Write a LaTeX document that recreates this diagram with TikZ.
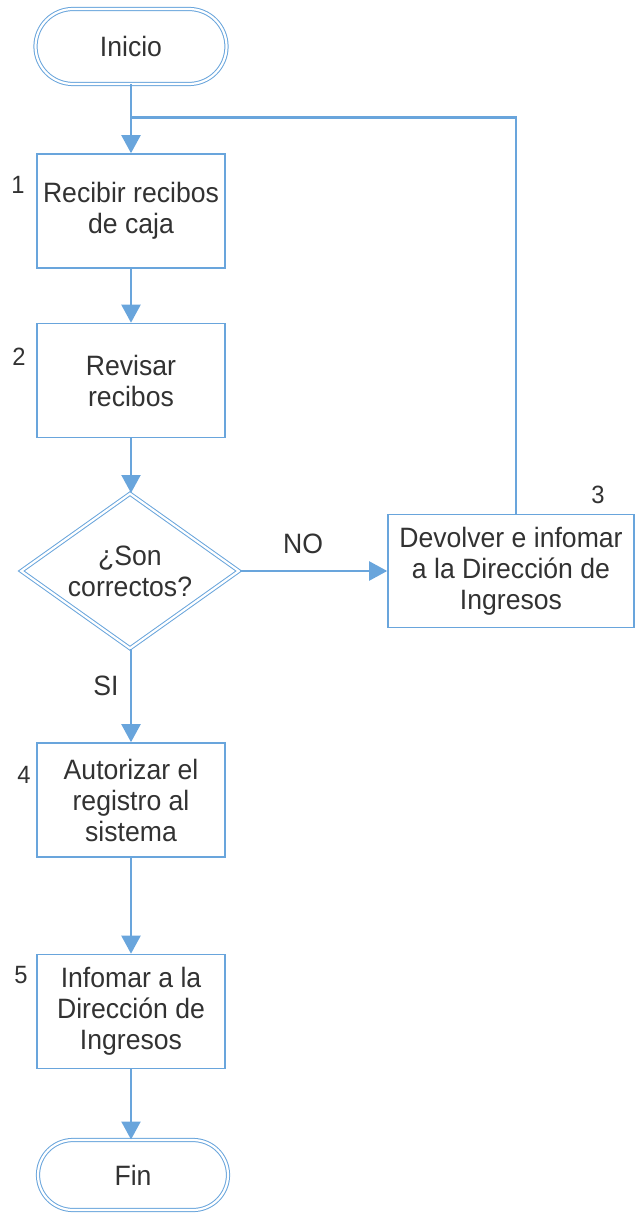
\documentclass[tikz,border=0pt]{standalone}
\usepackage{fontspec}
\setmainfont[FakeStretch=0.95]{Liberation Sans}
\usetikzlibrary{shapes.geometric,arrows.meta}
\definecolor{lineblue}{RGB}{105,165,220}
\definecolor{txtgray}{RGB}{50,50,50}
\begin{document}
\begin{tikzpicture}[x=1pt,y=-1pt,
  every node/.style={text=txtgray},
  txt/.style={font=\fontsize{28}{31}\selectfont, align=center},
  num/.style={font=\fontsize{25}{28}\selectfont, inner sep=0pt},
  stepbox/.style={txt, draw=lineblue, line width=1.6pt, rectangle, minimum width=188pt, minimum height=114pt, inner sep=0pt},
  term/.style={txt, draw=lineblue, line width=1pt, double=white, double distance=2.2pt, rectangle, inner sep=0pt},
  decision/.style={txt, draw=lineblue, line width=1pt, double=white, double distance=2.2pt, diamond, minimum width=218pt, minimum height=155pt, inner sep=0pt, aspect=1.4},
  conn/.style={draw=lineblue, line width=2.2pt},
  arr/.style={conn, -{Triangle[length=18pt,width=19pt]}}
]
\useasboundingbox (0,0) rectangle (636,1214);

\node[term, minimum width=191pt, minimum height=75pt, rounded corners=37.5pt] (inicio) at (131,46.5) {Inicio};
\node[stepbox] (b1) at (131,211) {Recibir recibos\\de caja};
\node[stepbox] (b2) at (131,380.5) {Revisar\\recibos};
\node[decision] (dia) at (130,571) {¿Son\\correctos?};
\node[stepbox, minimum width=246pt, minimum height=113pt] (b3) at (511,571) {Devolver e infomar\\a la Dirección de\\Ingresos};
\node[stepbox] (b4) at (131,800) {Autorizar el\\registro al\\sistema};
\node[stepbox] (b5) at (131,1011.5) {Infomar a la\\Dirección de\\Ingresos};
\node[term, minimum width=190pt, minimum height=70pt, rounded corners=35pt] (fin) at (133,1175) {Fin};

\node[num] (n1) at (18,185) {1};
\node[num] (n2) at (19,357) {2};
\node[num] (n3) at (598,495) {3};
\node[num] (n4) at (24,775) {4};
\node[num] (n5) at (21,975) {5};

\node[txt] (no) at (303,544) {NO};
\node[txt] (si) at (106,686) {SI};

\coordinate (j) at (131,117.5);

\draw[arr] (inicio.south) -- (b1.north);
\draw[conn] ([xshift=5pt]b3.north) |- (j);
\draw[arr] (b1.south) -- (b2.north);
\draw[arr] (b2.south) -- ([xshift=1pt]dia.north);
\draw[arr] (dia.east) -- (b3.west);
\draw[arr] ([xshift=1pt]dia.south) -- (b4.north);
\draw[arr] (b4.south) -- (b5.north);
\draw[arr] (b5.south) -- (b5.south |- fin.north);
\end{tikzpicture}
\end{document}
